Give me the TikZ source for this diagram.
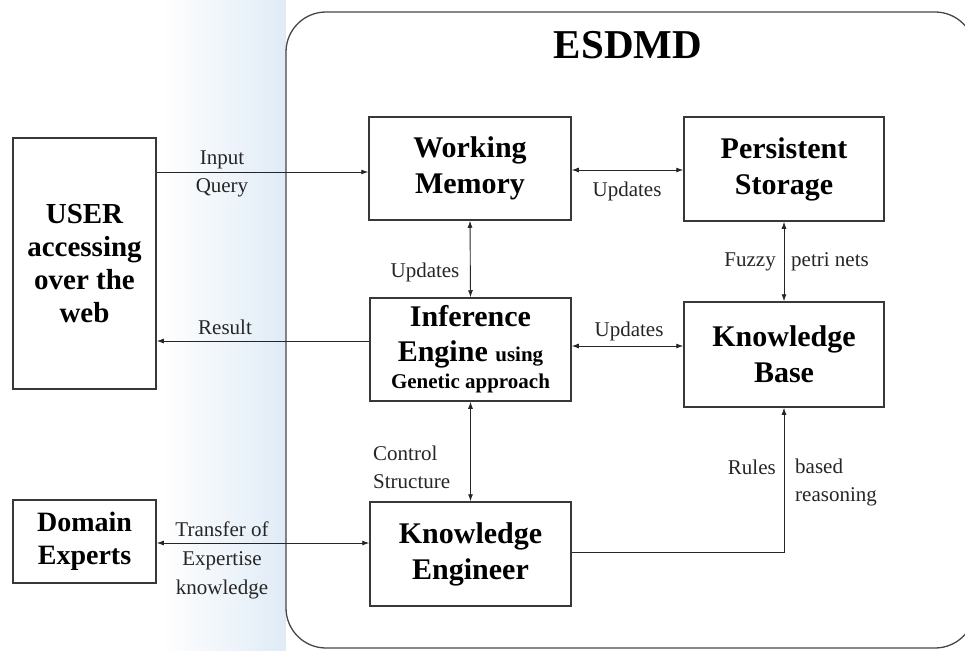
\documentclass[tikz,border=0pt]{standalone}
\usepackage{fontspec}
\setmainfont{Liberation Serif}
\usetikzlibrary{arrows.meta,calc}

\begin{document}
\begin{tikzpicture}[x=1pt,y=-1pt,
  box/.style={draw=black!78, line width=1.5pt, inner sep=0pt, align=center,
              font=\bfseries, text=black},
  link/.style={line width=0.9pt, draw=black!85},
  tip/.style={-{Latex[length=7pt,width=5pt]}},
  twotip/.style={{Latex[length=7pt,width=5pt]}-{Latex[length=7pt,width=5pt]}},
  lbl/.style={font=\fontsize{21}{28}\selectfont, inner sep=0pt, text=black!85},
]
\useasboundingbox (0,0) rectangle (965,650);

% soft blue band behind the left edge of the system frame
\fill[left color=white, right color={rgb,255:red,224;green,235;blue,246}]
  (160,0) rectangle (286,650);
\fill[white] (286,0) rectangle (965,650);

% system frame
\draw[line width=1.3pt, draw=black!72, rounded corners=40pt]
  (286,12) rectangle (975,648);
\node[font=\bfseries\fontsize{41}{41}\selectfont, inner sep=0pt] (title) at (628,45) {ESDMD};

% components
\node[box, minimum width=143, minimum height=251, font=\bfseries\fontsize{29}{33}\selectfont]
  (user) at (84.5,263.5) {USER\\accessing\\over the\\web};
\node[box, minimum width=143, minimum height=83, font=\bfseries\fontsize{28}{33}\selectfont]
  (de) at (84.5,541.5) {Domain\\Experts};
\node[box, minimum width=202, minimum height=103, font=\bfseries\fontsize{30}{36}\selectfont]
  (wm) at (470,168.5) {Working\\Memory};
\node[box, minimum width=200, minimum height=104, font=\bfseries\fontsize{30}{36}\selectfont]
  (ps) at (784,169) {Persistent\\Storage};
\node[box, minimum width=201, minimum height=103, font=\bfseries\fontsize{30}{35}\selectfont]
  (ie) at (470.5,349.5) {Inference\\Engine {\fontsize{21}{21}\selectfont using}\\[-8pt]
  {\fontsize{21}{21}\selectfont Genetic approach}};
\node[box, minimum width=200, minimum height=105, font=\bfseries\fontsize{30}{36}\selectfont]
  (kb) at (784,354.5) {Knowledge\\Base};
\node[box, minimum width=201, minimum height=104, font=\bfseries\fontsize{30}{36}\selectfont]
  (ke) at (470.5,554) {Knowledge\\Engineer};

% connectors
\draw[link, tip] (user.east |- 0,172) -- (wm.west |- 0,172);
\draw[link, tip] (ie.west |- 0,341) -- (user.east |- 0,341);
\draw[link, twotip] (wm.east |- 0,170) -- (ps.west |- 0,170);
\draw[link, twotip] (wm.south) -- (ie.north);
\draw[link, twotip] (ps.south) -- (kb.north);
\draw[link, twotip] (ie.east |- 0,346) -- (kb.west |- 0,346);
\draw[link, twotip] (ie.south) -- (ke.north);
\draw[link, tip] (ke.east |- 0,552) -| (kb.south);
\draw[link, twotip] (de.east |- 0,543) -- (ke.west |- 0,543);

% connector labels
\node[lbl, align=center] (lin) at (222,174) {Input\\Query};
\node[lbl] (lres) at (225,327) {Result};
\node[lbl] (lup1) at (627,191) {Updates};
\node[lbl] (lup2) at (425,272) {Updates};
\node[lbl, anchor=east] (lfz) at (776,262) {Fuzzy};
\node[lbl, anchor=west] (lpn) at (791,262) {petri nets};
\node[lbl] (lup3) at (629,331) {Updates};
\node[lbl, align=left, anchor=west] (lcs) at (373,467) {Control\\Structure};
\node[lbl, anchor=east] (lru) at (776,467) {Rules};
\node[lbl, align=left, anchor=west] (lbr) at (795,482) {based\\reasoning};
\node[lbl, align=center, font=\fontsize{21}{29}\selectfont] (ltr) at (222,560)
  {Transfer of\\Expertise\\knowledge};
\end{tikzpicture}
\end{document}
